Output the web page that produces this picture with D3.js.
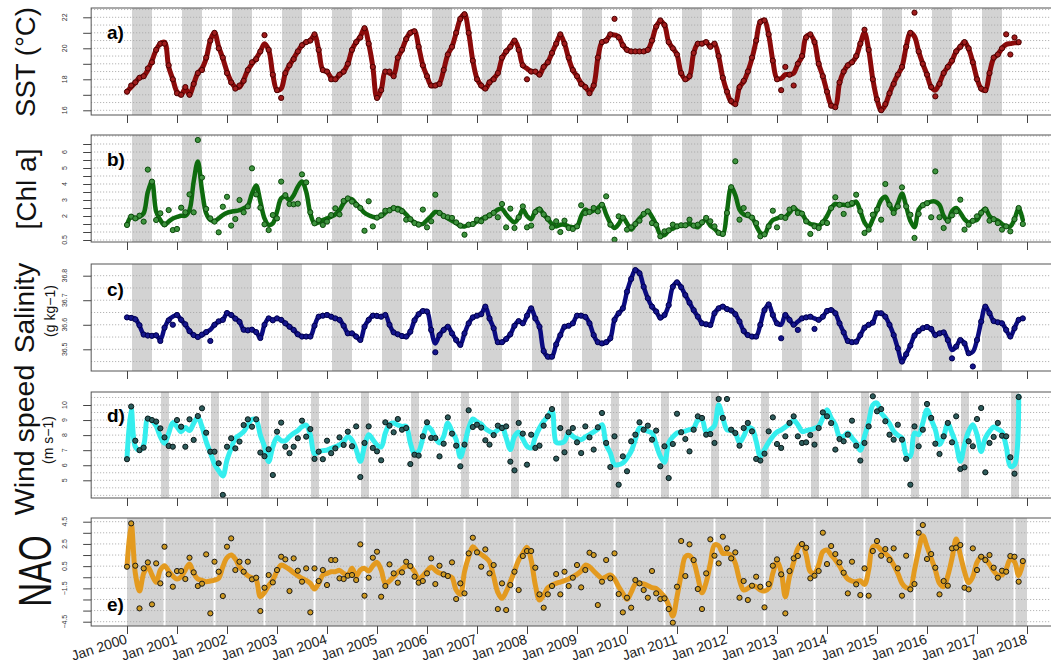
<!DOCTYPE html>
<html><head><meta charset="utf-8">
<script src="https://cdn.jsdelivr.net/npm/d3@7"></script>
<style>body{margin:0;background:#fff}svg{display:block;font-family:"Liberation Sans",Arial,Helvetica,sans-serif}</style>
</head><body><svg id="c" width="1051" height="668"></svg>
<script>
// ---------- DATA (monthly, starting Jan 2000) ----------
const tickYears = d3.range(2000, 2019);
const tickLabels = tickYears.map(y => "Jan " + y);

const sstLine = [
17.2,17.5,17.8,18.1,18.2,18.6,19.2,19.9,20.3,20.4,18.8,18.0,
17.2,17.0,17.4,17.0,17.7,18.4,18.7,19.35,20.5,21.0,20.1,19.35,
18.5,17.85,17.5,17.5,17.96,18.6,19.0,19.35,19.8,20.3,19.9,18.3,
17.3,17.4,18.4,18.9,19.35,19.8,20.2,20.4,20.5,20.86,19.9,18.6,
18.5,18.1,18.0,18.3,18.5,19.0,19.9,20.4,20.75,21.3,20.3,18.8,
16.8,17.3,18.5,18.4,18.3,19.35,19.9,20.6,21.0,21.1,20.1,18.9,
18.2,17.6,17.6,17.75,18.6,19.6,20.1,21.0,21.9,22.2,21.0,19.2,
18.05,17.6,17.4,17.8,18.05,18.4,19.35,19.8,20.1,20.5,19.95,18.9,
18.7,18.5,18.5,18.3,18.8,19.1,19.7,20.3,20.86,20.3,19.35,18.6,
18.2,17.75,17.5,17.2,17.6,19.35,20.4,20.5,20.86,20.86,20.75,20.2,
19.9,19.8,19.8,19.8,19.8,19.9,20.5,21.4,21.75,21.5,20.4,20.0,
19.6,18.4,18.0,18.2,19.7,20.3,20.3,20.4,20.1,20.3,19.46,18.1,
17.2,16.55,16.45,17.5,17.85,18.5,19.35,20.5,21.7,21.8,20.86,19.2,
18.05,18.05,18.3,18.3,18.4,19.0,19.46,20.75,20.86,20.4,19.0,18.2,
17.2,16.35,16.25,17.75,18.5,18.9,19.1,19.46,20.3,21.0,19.9,18.0,
16.7,16.0,16.35,17.1,17.75,18.3,18.8,20.1,21.0,20.75,19.8,19.0,
18.3,17.5,17.3,17.75,18.4,18.8,19.2,19.8,20.1,20.4,19.95,19.1,
18.05,17.4,17.3,18.4,19.35,19.6,20.0,20.25,20.3,20.35,20.36];
const sstPts = [
17.2,17.6,17.8,18.1,18.2,18.7,19.1,19.9,20.3,20.3,18.9,18.0,
17.1,17.0,17.5,17.0,17.7,18.4,18.6,19.4,20.5,21.0,20.0,19.4,
18.4,17.8,17.4,17.6,17.9,18.6,19.1,19.3,19.8,20.85,19.9,18.3,
17.3,16.8,18.4,18.9,19.3,19.8,20.2,20.4,20.5,20.9,19.9,18.6,
18.5,18.0,18.0,18.3,18.5,19.0,19.9,20.4,20.7,21.3,20.3,18.8,
16.8,17.3,18.5,18.5,18.2,19.4,19.9,20.6,21.0,21.1,20.1,18.9,
18.2,17.6,17.6,17.7,18.6,19.6,20.1,21.0,21.9,22.2,21.0,19.2,
18.0,17.6,17.4,17.8,18.0,18.4,19.4,19.8,20.1,20.5,19.9,18.9,
18.0,18.5,18.5,18.3,18.8,19.1,19.7,20.3,20.9,20.3,19.4,18.6,
18.2,17.7,17.5,17.1,17.6,19.4,20.4,20.5,20.9,21.9,20.7,20.2,
19.9,19.8,19.8,19.8,19.8,19.9,20.5,21.4,21.8,21.5,20.4,20.0,
19.6,18.4,18.0,18.2,19.7,20.3,20.3,20.4,20.1,20.3,19.5,18.1,
17.2,16.6,16.4,17.5,17.9,18.5,19.4,20.5,21.7,21.8,20.9,19.2,
18.0,17.3,18.8,18.3,17.6,19.0,19.5,20.7,20.9,20.4,19.0,18.2,
17.2,16.3,16.2,17.8,18.5,18.9,19.1,19.5,20.3,21.2,19.9,18.0,
16.7,16.0,16.4,17.1,17.7,18.3,18.8,20.1,21.0,22.3,19.8,19.0,
18.3,17.5,16.9,17.7,18.4,18.8,19.2,19.8,20.1,20.4,20.0,19.1,
18.0,17.4,17.3,18.4,19.4,19.6,20.0,20.9,19.6,20.7,20.4];

const chlLine = [
1.44,1.96,1.85,1.96,2.17,3.5,4.15,2.27,1.75,1.44,1.65,1.85,
1.94,2.02,2.02,2.37,4.15,5.4,3.6,2.17,1.75,1.69,1.85,2.06,
2.2,2.27,2.31,2.37,2.48,2.65,3.4,3.9,2.9,1.85,1.44,1.54,
2.27,3.1,3.2,3.0,3.3,3.83,4.15,3.52,2.17,1.54,1.6,1.75,
1.85,1.96,2.1,2.37,2.8,3.06,3.05,2.75,2.5,2.2,2.05,1.95,
1.9,2.0,2.2,2.4,2.45,2.5,2.35,2.1,1.8,1.6,1.5,1.5,
1.75,2.0,2.25,2.2,2.0,1.85,1.7,1.55,1.38,1.35,1.45,1.5,
1.65,1.8,1.9,2.05,2.2,2.4,2.45,2.1,1.8,1.6,1.9,2.4,
2.0,1.8,2.3,2.45,2.1,1.8,1.5,1.35,1.45,1.45,1.35,1.3,
1.35,2.0,2.4,2.25,2.35,2.5,2.7,2.1,1.55,1.25,1.5,1.9,
1.55,1.15,1.5,1.85,2.1,2.3,1.95,1.45,0.85,0.8,1.1,1.2,
1.35,1.4,1.42,1.5,1.4,1.3,1.6,1.75,1.4,1.2,0.95,0.85,
2.3,3.8,3.3,2.4,2.1,2.0,1.9,1.4,0.95,0.85,1.4,1.75,
1.85,1.95,1.95,2.2,2.5,2.3,2.15,1.7,1.5,1.45,1.4,1.6,
2.0,2.5,2.75,2.7,2.7,2.65,2.7,2.9,2.3,1.6,1.3,1.8,
2.4,3.0,3.2,2.7,2.3,2.8,3.4,2.6,1.7,1.3,2.4,2.7,
2.8,2.9,2.9,2.7,2.0,1.7,2.3,2.5,2.2,1.8,1.6,1.7,
1.75,2.2,2.45,2.0,1.8,1.7,1.5,1.35,1.35,1.8,2.5,1.75];
const chlPts = [
1.44,1.96,1.85,2.02,1.65,4.9,4.15,1.75,2.17,1.48,2.37,1.12,
1.19,2.52,2.23,3.35,2.23,6.75,4.4,2.44,1.85,1.65,0.98,2.58,
3.2,1.4,1.81,3.0,2.23,2.6,4.98,3.35,2.52,1.48,1.12,2.06,
1.85,4.15,3.3,2.75,2.73,2.77,4.6,4.1,2.23,1.54,1.75,1.44,
1.65,2.06,2.48,2.1,2.94,3.1,2.9,2.7,2.5,1.08,2.92,1.35,
1.9,2.04,2.33,2.35,2.5,2.4,2.3,1.77,1.8,1.56,1.46,2.4,
1.29,1.67,3.33,2.19,2.0,1.92,1.88,1.6,1.4,0.83,1.46,1.5,
1.77,1.67,1.9,2.04,2.2,1.92,2.75,1.29,2.46,1.25,1.92,2.6,
1.29,1.4,2.25,2.4,2.1,1.83,1.29,1.67,1.0,1.71,1.25,1.19,
1.35,2.67,2.19,2.25,2.5,2.29,2.7,3.23,1.46,0.52,1.98,1.9,
1.15,1.29,1.5,1.71,2.13,2.29,1.56,1.45,0.73,1.04,1.1,1.46,
1.35,1.42,1.42,1.77,1.4,1.46,1.6,1.88,1.67,1.35,0.95,0.88,
2.19,3.8,5.42,1.77,2.5,2.08,1.9,1.56,0.73,0.85,1.35,2.33,
1.29,1.95,1.88,2.4,2.5,2.19,2.15,1.67,0.88,1.35,1.25,1.6,
1.56,2.5,3.17,2.7,2.13,2.71,2.81,3.33,2.3,0.94,1.15,2.08,
2.4,1.77,4.0,2.7,2.19,2.6,3.79,2.6,2.08,0.63,2.13,2.67,
2.8,1.92,4.79,1.92,1.25,1.7,2.04,2.29,3.02,1.15,1.46,1.7,
1.98,2.2,2.4,1.71,1.8,1.56,1.15,1.35,1.04,1.8,2.5,1.5];

const salLine = [
36.630,36.629,36.624,36.596,36.561,36.558,36.554,36.558,36.538,36.586,36.620,36.633,
36.640,36.620,36.600,36.575,36.558,36.552,36.558,36.570,36.580,36.600,36.613,36.620,
36.647,36.640,36.626,36.613,36.579,36.579,36.579,36.570,36.548,36.600,36.626,36.620,
36.626,36.620,36.606,36.592,36.579,36.561,36.552,36.552,36.552,36.596,36.633,36.637,
36.640,36.633,36.626,36.620,36.596,36.565,36.565,36.552,36.538,36.592,36.620,36.637,
36.636,36.633,36.640,36.600,36.569,36.561,36.554,36.552,36.572,36.618,36.643,36.656,
36.654,36.579,36.524,36.558,36.579,36.592,36.565,36.538,36.518,36.565,36.606,36.630,
36.637,36.643,36.674,36.626,36.586,36.529,36.529,36.542,36.561,36.596,36.615,36.606,
36.637,36.667,36.626,36.592,36.493,36.470,36.470,36.520,36.558,36.592,36.596,36.606,
36.637,36.637,36.632,36.606,36.558,36.529,36.524,36.529,36.545,36.620,36.647,36.667,
36.735,36.787,36.823,36.810,36.755,36.708,36.674,36.654,36.629,36.640,36.680,36.755,
36.773,36.753,36.721,36.690,36.660,36.633,36.606,36.602,36.599,36.647,36.667,36.674,
36.664,36.658,36.643,36.613,36.575,36.558,36.552,36.552,36.600,36.660,36.683,36.640,
36.606,36.600,36.640,36.620,36.600,36.613,36.626,36.630,36.633,36.626,36.620,36.633,
36.656,36.660,36.647,36.606,36.569,36.534,36.529,36.531,36.558,36.588,36.600,36.609,
36.647,36.647,36.633,36.600,36.558,36.504,36.450,36.480,36.515,36.556,36.575,36.586,
36.591,36.583,36.558,36.565,36.569,36.538,36.497,36.511,36.538,36.524,36.484,36.490,
36.538,36.613,36.674,36.647,36.615,36.610,36.606,36.579,36.552,36.586,36.620,36.626];
const salPts = [
36.630,36.628,36.622,36.598,36.560,36.556,36.555,36.557,36.534,36.588,36.618,36.600,
36.640,36.620,36.602,36.574,36.558,36.550,36.560,36.570,36.534,36.600,36.614,36.620,
36.648,36.640,36.625,36.612,36.580,36.577,36.580,36.570,36.546,36.600,36.626,36.618,
36.626,36.620,36.606,36.592,36.579,36.561,36.552,36.552,36.552,36.596,36.633,36.637,
36.640,36.633,36.626,36.620,36.596,36.565,36.565,36.552,36.538,36.592,36.620,36.637,
36.636,36.633,36.640,36.600,36.569,36.561,36.554,36.552,36.572,36.618,36.643,36.656,
36.654,36.579,36.488,36.558,36.579,36.592,36.565,36.538,36.518,36.565,36.606,36.630,
36.637,36.643,36.674,36.626,36.586,36.529,36.529,36.542,36.561,36.596,36.615,36.606,
36.637,36.667,36.626,36.592,36.493,36.470,36.470,36.520,36.558,36.592,36.596,36.606,
36.637,36.637,36.632,36.606,36.558,36.529,36.524,36.529,36.545,36.620,36.647,36.667,
36.735,36.787,36.823,36.810,36.755,36.708,36.674,36.654,36.629,36.640,36.680,36.755,
36.773,36.753,36.721,36.690,36.660,36.633,36.606,36.602,36.599,36.647,36.667,36.674,
36.664,36.658,36.643,36.613,36.575,36.558,36.552,36.552,36.600,36.660,36.683,36.640,
36.606,36.545,36.640,36.620,36.600,36.579,36.626,36.630,36.633,36.583,36.620,36.633,
36.656,36.660,36.647,36.606,36.569,36.534,36.529,36.531,36.558,36.588,36.600,36.609,
36.647,36.647,36.633,36.600,36.558,36.504,36.450,36.480,36.515,36.556,36.575,36.586,
36.591,36.583,36.558,36.565,36.569,36.538,36.463,36.511,36.538,36.524,36.484,36.430,
36.538,36.613,36.674,36.647,36.615,36.610,36.606,36.579,36.552,36.586,36.620,36.626];

const windLine = [
6.46,9.78,7.23,7.0,7.35,9.1,8.96,8.6,7.9,7.46,8.12,8.83,
8.56,8.23,8.5,8.3,8.78,9.18,8.56,7.57,6.84,6.08,5.64,5.29,
6.35,7.12,7.79,8.0,8.23,8.67,9.05,9.0,8.0,7.23,6.24,7.23,
7.85,7.63,7.63,7.9,8.12,8.3,8.56,8.67,8.0,6.75,6.9,6.97,
7.0,7.12,7.23,7.35,7.57,7.9,7.66,7.04,6.26,7.26,8.03,7.7,
7.35,7.21,8.14,8.72,8.81,8.67,8.58,8.58,7.48,6.77,6.92,7.81,
8.58,8.36,7.81,7.48,7.92,8.81,8.25,7.7,6.55,7.37,8.47,9.07,
8.87,8.74,8.43,8.25,8.14,8.36,8.54,7.81,7.04,7.92,8.19,7.74,
7.26,7.15,7.88,8.47,8.92,9.25,9.65,7.52,7.48,7.59,8.14,7.92,
7.77,7.7,7.88,8.03,8.21,8.4,8.69,7.37,6.81,6.04,6.04,6.15,
6.48,6.92,7.7,8.47,8.4,8.25,8.14,7.37,6.59,6.2,7.48,7.88,
8.14,8.21,8.27,8.36,8.47,8.98,9.03,8.19,8.36,8.63,10.0,9.14,
8.36,8.32,8.14,7.52,7.92,8.47,8.43,7.59,6.59,7.04,7.52,7.92,
8.21,8.34,8.54,8.74,8.98,8.69,8.25,8.3,8.36,8.45,8.58,9.14,
9.69,9.14,8.69,7.92,7.92,8.14,7.81,7.48,6.99,7.92,8.85,10.0,
10.13,9.47,9.14,8.76,8.25,7.99,7.81,6.7,6.59,8.14,8.03,8.81,
9.69,9.03,8.36,7.37,7.92,8.76,8.14,7.37,6.26,7.37,8.25,8.69,
8.03,6.92,7.81,8.25,8.54,8.4,8.21,7.26,5.93,6.04,10.58];
const windPts = [
6.4,9.9,7.63,7.0,7.17,9.1,9.0,8.9,8.45,7.85,7.28,7.23,
9.0,8.56,7.23,9.05,7.68,9.27,9.78,8.16,6.9,6.9,6.13,4.03,
7.23,7.79,7.12,7.57,8.67,9.05,8.56,9.05,6.84,6.6,7.06,5.35,
8.23,8.83,7.23,6.8,7.23,7.79,8.96,7.9,8.4,6.42,6.9,6.4,
7.63,6.8,7.12,7.85,7.35,8.23,7.26,8.58,5.22,7.48,8.58,7.15,
6.92,6.33,8.85,8.63,8.19,9.07,8.36,8.47,6.08,6.7,6.64,7.92,
8.85,7.81,7.81,6.59,7.43,9.18,8.1,7.3,5.93,7.37,9.65,8.54,
8.69,8.5,7.66,7.37,8.0,8.63,8.47,8.58,6.24,5.66,8.81,8.1,
6.04,8.03,7.15,7.3,8.63,9.25,9.73,6.44,8.47,6.86,8.19,8.47,
7.52,6.81,8.58,7.85,7.04,8.52,9.47,7.48,5.88,7.92,4.71,6.59,
5.6,7.59,8.03,8.85,8.36,8.63,7.7,8.3,5.93,7.26,5.15,7.41,
9.42,8.19,7.74,6.92,8.36,9.25,9.14,8.03,8.07,7.48,10.4,9.14,
10.4,8.36,8.14,7.3,8.47,8.81,8.25,6.42,6.31,6.77,8.25,9.18,
7.41,7.15,7.92,8.81,9.25,7.92,7.48,7.52,8.0,7.37,8.47,9.51,
9.25,8.8,7.04,7.74,7.59,8.03,8.96,7.3,6.31,7.48,8.58,10.58,
9.58,9.73,8.92,8.03,7.7,8.69,7.7,6.42,4.71,8.58,7.26,8.36,
10.07,9.14,7.43,6.75,7.92,8.81,7.52,9.25,5.75,5.86,7.59,7.26,
9.07,9.8,5.53,7.48,7.88,8.81,7.96,7.92,6.53,5.44,10.53];

const naoLine = [
0.45,4.35,-0.15,-1.74,-0.15,0.45,-0.3,-0.96,0.15,0.54,0.06,-0.39,
-0.66,-0.45,0.15,0.69,-0.15,-0.66,-0.78,-0.9,-0.84,-0.75,-0.6,0.45,
1.26,1.5,1.14,0.45,0.0,-0.36,-0.54,-0.75,-2.25,-1.86,-1.26,-0.75,
0.06,0.6,0.45,0.21,-0.09,-0.36,-0.6,-0.78,-1.05,-1.56,-1.05,-0.3,
-0.15,0.0,0.0,0.12,-0.15,-0.3,0.3,-0.39,0.15,0.3,0.06,0.54,
0.84,0.15,-1.05,-0.84,-0.45,-0.06,0.24,0.51,0.45,0.0,-0.66,-0.36,
0.06,0.42,0.12,-0.12,-0.24,-0.36,-0.54,-1.65,-2.04,0.0,1.35,2.25,
1.86,1.56,1.29,0.9,-0.45,-1.86,-2.4,-1.8,-0.9,0.06,1.05,1.65,
2.19,1.05,-1.2,-2.55,-2.1,-1.44,-1.2,-1.05,-0.93,-0.81,-0.66,-0.45,
-0.24,0.06,0.6,0.45,0.06,-0.3,-0.6,-0.45,-0.3,-0.66,-1.35,-1.95,
-2.49,-1.86,-1.11,-1.05,-1.11,-1.26,-1.44,-1.5,-1.86,-2.25,-3.0,-3.99,
-2.25,-0.3,1.35,1.45,0.9,-0.5,-1.9,-0.96,0.75,2.4,2.34,1.65,
1.65,1.5,0.75,-0.75,-1.65,-1.5,-1.26,-1.35,-1.65,-1.74,-1.5,-0.15,
0.9,0.0,-2.25,-0.45,0.84,2.1,2.52,1.5,0.0,-0.15,0.6,1.8,
1.95,1.5,1.05,0.51,-0.15,-0.66,-0.84,-0.9,-0.81,-1.14,0.15,2.25,
2.31,1.95,1.65,1.26,0.6,-0.15,-1.05,-1.44,-1.44,0.15,1.95,3.24,
2.25,1.2,0.15,-1.05,-1.35,-0.36,1.2,2.94,1.5,0.0,-0.99,-0.45,
0.84,1.32,1.14,0.66,0.06,-0.3,-0.3,0.24,1.14,0.9,-0.36,0.75];
const naoPts = [
0.45,4.35,0.54,-3.3,0.3,0.84,-2.94,0.75,-1.05,2.25,-0.24,-1.35,
0.06,0.06,-0.66,1.26,-0.06,-1.29,-1.08,1.56,-3.75,0.9,0.0,-2.19,
2.25,3.0,0.15,0.9,0.0,0.9,-0.69,-0.54,-3.54,-1.44,-0.3,-0.96,
0.15,1.35,1.11,-1.74,1.2,0.09,-0.9,0.3,-3.66,0.3,-0.84,0.15,
-1.2,1.05,1.05,-0.6,-0.66,-0.36,-0.3,-0.75,2.46,-2.16,-0.54,1.26,
1.8,-2.25,-1.29,0.66,-0.15,-0.99,-0.06,0.9,0.51,-0.45,-0.99,-0.84,
-0.15,1.2,-1.11,0.54,-0.24,-0.39,0.84,-2.46,-1.05,-1.95,1.65,3.06,
1.74,0.45,2.01,-0.15,0.6,-3.36,-1.05,-3.45,-1.2,0.0,-1.65,1.41,
1.86,1.86,0.36,-2.04,-3.24,-2.04,-1.29,-0.21,-2.04,0.0,-1.29,-0.54,
0.6,-1.41,0.15,1.71,1.5,-3.0,-0.9,1.05,-0.6,1.65,-2.01,-3.66,
-2.34,-3.24,-0.75,-1.05,-1.65,-2.34,0.06,-1.95,-2.46,-2.4,-3.36,-4.59,
-1.35,2.76,-0.39,2.46,1.05,-1.56,-3.36,-0.15,2.91,1.44,0.75,3.15,
2.1,1.2,1.74,-2.34,-0.84,-2.55,-1.26,-0.45,-1.35,-3.21,-1.11,0.54,
1.11,-0.24,-3.75,0.06,1.2,1.41,2.49,2.16,-0.6,-0.36,0.06,3.51,
0.69,2.31,1.59,0.84,-0.09,-1.95,0.9,-1.14,-2.1,0.3,-2.16,1.86,
2.76,1.44,2.04,1.05,2.1,0.3,-2.16,1.44,-1.59,-1.11,3.51,4.2,
1.14,1.59,0.36,-2.04,-0.84,-1.26,2.1,2.16,2.4,-1.44,-1.59,2.1,
0.15,1.35,1.05,1.5,0.36,-0.54,0.09,0.0,1.41,1.35,-0.9,0.96];

// ---------- LAYOUT ----------
const svg = d3.select("#c");
svg.append("rect").attr("width",1051).attr("height",668).attr("fill","#fff");
const x = d3.scaleLinear().domain([0, 18]).range([127, 1027]);
const X0 = x(-0.7167), X1 = x(18.633);
const fmt = v => (v < 0 ? "\u2212" : "") + Math.abs(v);

const panels = [
 {key:"a", top:8, bottom:115, dom:[16,22], rng:[110.3,17.3], ticks:d3.range(16,22.01,1), labels:[16,18,20,22],
  grid:d3.range(16,22.51,0.5), line:sstLine, pts:sstPts, lc:"#8b0a0a", lw:5, pf:"#a01c1c", ps:"#4a0000",
  bands:"spring", tag:"a)", tagY:39},
 {key:"b", top:135, bottom:242, dom:[0.5,6.5], rng:[240,144], ticks:d3.range(0.5,6.51,0.5), labels:[0.5,2,3,4,5,6],
  grid:d3.range(0.5,7.01,0.5), line:chlLine, pts:chlPts, lc:"#0e6b0e", lw:4.5, pf:"#3f933f", ps:"#0b4a0b",
  bands:"spring", tag:"b)", tagY:166},
 {key:"c", top:264, bottom:371, dom:[36.5,36.8], rng:[349.3,275.7], ticks:[36.5,36.6,36.7,36.8], labels:[36.5,36.6,36.7,36.8],
  grid:d3.range(36.45,36.81,0.05), line:salLine, pts:salPts, lc:"#0b0b80", lw:4.5, pf:"#15158c", ps:"#000050",
  bands:"spring", tag:"c)", tagY:296},
 {key:"d", top:392, bottom:498, dom:[5,10], rng:[480.3,405], ticks:d3.range(5,10.01,1), labels:[5,6,7,8,9,10],
  grid:d3.range(4,10.51,0.5), line:windLine, pts:windPts, lc:"#35eeee", lw:5, pf:"#2e5c5c", ps:"#0a1a1a",
  bands:"autumn", tag:"d)", tagY:422},
 {key:"e", top:518, bottom:626, dom:[-4.5,4.5], rng:[621.7,521.7], ticks:d3.range(-4.5,4.51,1), labels:[4.5,2.5,0.5,-1.5,-4.5],
  grid:d3.range(-4.5,4.51,1), line:naoLine, pts:naoPts, lc:"#e39a1f", lw:5, pf:"#cf9a22", ps:"#1a1a1a",
  bands:"nao", tag:"e)", tagY:611}
];

panels.forEach(p => {
  const y = d3.scaleLinear().domain(p.dom).range(p.rng);
  const g = svg.append("g");
  const cid = "clip-" + p.key;
  svg.append("clipPath").attr("id", cid).append("rect")
     .attr("x", X0).attr("y", p.top).attr("width", X1 - X0).attr("height", p.bottom - p.top);
  const inner = g.append("g").attr("clip-path", `url(#${cid})`);
  const yrs = d3.range(0, 18);
  if (p.bands === "spring") {
    inner.selectAll("rect.band").data(yrs).join("rect")
      .attr("x", t => x(t + 0.1)).attr("width", t => x(t + 0.5) - x(t + 0.1))
      .attr("y", p.top).attr("height", p.bottom - p.top).attr("fill", "#d3d3d3");
  } else if (p.bands === "autumn") {
    inner.selectAll("rect.band").data(yrs).join("rect")
      .attr("x", t => x(t + 0.68)).attr("width", t => x(t + 0.84) - x(t + 0.68))
      .attr("y", p.top).attr("height", p.bottom - p.top).attr("fill", "#d3d3d3");
  } else {
    inner.append("rect").attr("x", x(0)).attr("width", x(18) - x(0))
      .attr("y", p.top).attr("height", p.bottom - p.top).attr("fill", "#d3d3d3");
    inner.selectAll("line.wl").data(yrs).join("line")
      .attr("x1", t => x(t + 0.75)).attr("x2", t => x(t + 0.75))
      .attr("y1", p.top).attr("y2", p.bottom).attr("stroke", "#fff").attr("stroke-width", 2);
  }
  inner.selectAll("line.grid").data(p.grid).join("line")
    .attr("x1", X0).attr("x2", X1).attr("y1", d => y(d)).attr("y2", d => y(d))
    .attr("stroke", "#a8a8a8").attr("stroke-width", 1).attr("stroke-dasharray", "1,2");
  const ld = p.line.map((v, i) => [i / 12, v]);
  inner.append("path").datum(ld)
    .attr("d", d3.line().x(d => x(d[0])).y(d => y(d[1])).curve(d3.curveCatmullRom.alpha(0.5)))
    .attr("fill", "none").attr("stroke", p.lc).attr("stroke-width", p.lw)
    .attr("stroke-linejoin", "round").attr("stroke-linecap", "round");
  const pd = p.pts.map((v, i) => [i / 12, v]);
  inner.selectAll("circle").data(pd).join("circle")
    .attr("cx", d => x(d[0])).attr("cy", d => y(d[1])).attr("r", 2.6)
    .attr("fill", p.pf).attr("stroke", p.ps).attr("stroke-width", 1);
  g.append("rect").attr("x", X0).attr("y", p.top).attr("width", X1 - X0).attr("height", p.bottom - p.top)
    .attr("fill", "none").attr("stroke", "#555").attr("stroke-width", 1);
  const xa = g.append("g").attr("transform", `translate(0,${p.bottom})`)
    .call(d3.axisBottom(x).tickValues(d3.range(0, 19)).tickSize(8).tickSizeOuter(0).tickFormat(""));
  xa.select(".domain").remove();
  xa.selectAll("line").attr("stroke", "#444");
  const ya = g.append("g").attr("transform", `translate(${X0},0)`)
    .call(d3.axisLeft(y).tickValues(p.ticks).tickSize(8).tickSizeOuter(0).tickFormat(""));
  ya.select(".domain").remove();
  ya.selectAll("line").attr("stroke", "#444");
  g.selectAll("text.yl").data(p.labels).join("text")
    .attr("transform", d => `translate(67,${y(d)}) rotate(-90)`)
    .attr("text-anchor", "middle").attr("font-size", 7).attr("fill", "#333").text(fmt);
  g.append("text").attr("x", 107).attr("y", p.tagY).attr("font-size", 19).attr("font-weight", "bold").text(p.tag);
});

// x labels under the bottom panel
const eP = panels[4];
svg.selectAll("text.xl").data(d3.range(0, 19)).join("text")
  .attr("transform", t => `translate(${x(t) + 1},${eP.bottom + 17}) rotate(-18)`)
  .attr("text-anchor", "end").attr("font-size", 14).attr("fill", "#222").text(t => tickLabels[t]);

// y titles
function vtext(txt, cx, cy, fs, sy) {
  svg.append("text").attr("transform", `translate(${cx},${cy}) rotate(-90) scale(1,${sy || 1})`)
    .attr("text-anchor", "middle").attr("font-size", fs).attr("fill", "#111").text(txt);
}
vtext("SST (\u00B0C)", 35, 62, 27.5);
vtext("[Chl a]", 36, 189, 28);
vtext("Salinity", 34, 308, 28);
vtext("(g kg\u22121)", 55, 311, 14);
vtext("Wind speed", 34, 440, 28.5);
vtext("(m s\u22121)", 53, 440, 14);
vtext("NAO", 51, 571, 33, 1.4);
</script></body></html>
